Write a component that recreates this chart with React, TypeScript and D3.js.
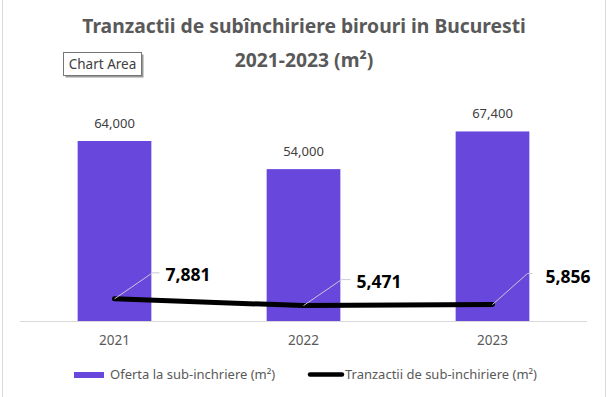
import { useRef, useEffect } from 'react';
import * as d3 from 'd3';

const years = ['2021', '2022', '2023'];
const oferta = [64000, 54000, 67400];
const tranzactii = [7881, 5471, 5856];
const titleLines = ['Tranzactii de subînchiriere birouri in Bucuresti', '2021-2023 (m²)'];
const legendLabels = ['Oferta la sub-inchriere (m²)', 'Tranzactii de sub-inchiriere (m²)'];

// leader line / label offsets relative to each point (manual label placement)
const labelOffsets = [
  { bx: 38, by: -26, ex: 45, tx: 51, ty: -18 },
  { bx: 38, by: -26, ex: 47, tx: 53, ty: -18 },
  { bx: 35, by: -31, ex: 40, tx: 53, ty: -22 },
];

const FONT = '"Noto Sans", "Open Sans", sans-serif';

function App() {
  const svgRef = useRef<SVGSVGElement>(null);

  useEffect(() => {
    const width = 607;
    const height = 397;
    const svg = d3.select(svgRef.current).attr('width', width).attr('height', height);
    svg.selectAll('*').remove();

    svg.append('rect').attr('width', width).attr('height', height).attr('fill', '#fff');
    svg.append('line').attr('x1', 2.5).attr('x2', 2.5).attr('y1', 0).attr('y2', height)
      .attr('stroke', '#d9d9d9');
    svg.append('line').attr('x1', 605.5).attr('x2', 605.5).attr('y1', 0).attr('y2', height)
      .attr('stroke', '#d9d9d9');

    const plot = { left: 20, right: 587, top: 96, bottom: 321 };

    const x = d3.scaleBand().domain(years).range([plot.left, plot.right]);
    const barW = x.bandwidth() * 0.39;
    const y = d3.scaleLinear().domain([0, 80000]).range([plot.bottom, plot.top]);

    // title
    svg.append('g').selectAll('text')
      .data(titleLines)
      .enter()
      .append('text')
      .attr('x', 304)
      .attr('y', (d, i) => 33 + i * 34)
      .attr('text-anchor', 'middle')
      .attr('font-family', FONT)
      .attr('font-weight', 'bold')
      .attr('font-size', 19.3)
      .attr('fill', '#595959')
      .text(d => d);

    // bars
    svg.append('g').selectAll('rect')
      .data(oferta)
      .enter()
      .append('rect')
      .attr('x', (d, i) => x(years[i])! + x.bandwidth() / 2 - barW / 2)
      .attr('y', d => y(d))
      .attr('width', barW)
      .attr('height', d => y(0) - y(d))
      .attr('fill', '#6847dc');

    svg.append('g').selectAll('text')
      .data(oferta)
      .enter()
      .append('text')
      .attr('x', (d, i) => x(years[i])! + x.bandwidth() / 2)
      .attr('y', d => y(d) - 13)
      .attr('text-anchor', 'middle')
      .attr('font-family', FONT)
      .attr('font-size', 13)
      .attr('fill', '#404040')
      .text(d => d3.format(',')(d));

    // x axis
    svg.append('line')
      .attr('x1', plot.left).attr('x2', plot.right)
      .attr('y1', plot.bottom + 0.5).attr('y2', plot.bottom + 0.5)
      .attr('stroke', '#d9d9d9');

    svg.append('g').selectAll('text')
      .data(years)
      .enter()
      .append('text')
      .attr('x', d => x(d)! + x.bandwidth() / 2)
      .attr('y', 345)
      .attr('text-anchor', 'middle')
      .attr('font-family', FONT)
      .attr('font-size', 13.5)
      .attr('fill', '#595959')
      .text(d => d);

    // line
    const pts = tranzactii.map((v, i) => [x(years[i])! + x.bandwidth() / 2, y(v)] as [number, number]);
    svg.append('path')
      .datum(pts)
      .attr('d', d3.line())
      .attr('fill', 'none')
      .attr('stroke', '#000')
      .attr('stroke-width', 5)
      .attr('stroke-linecap', 'round')
      .attr('stroke-linejoin', 'round');

    // leader lines + labels
    pts.forEach(([px, py], i) => {
      const o = labelOffsets[i];
      svg.append('polyline')
        .attr('points', `${px},${py} ${px + o.bx},${py + o.by} ${px + o.ex},${py + o.by}`)
        .attr('fill', 'none')
        .attr('stroke', '#c8c8d8')
        .attr('stroke-width', 1);
      svg.append('text')
        .attr('x', px + o.tx)
        .attr('y', py + o.ty)
        .attr('font-family', FONT)
        .attr('font-weight', 'bold')
        .attr('font-size', 17.5)
        .attr('fill', '#000')
        .text(d3.format(',')(tranzactii[i]));
    });

    // legend
    const lg = svg.append('g').attr('font-family', FONT).attr('font-size', 13).attr('fill', '#595959');
    lg.append('rect').attr('x', 74).attr('y', 372).attr('width', 30).attr('height', 6).attr('fill', '#6847dc');
    lg.append('text').attr('x', 110).attr('y', 378.5).text(legendLabels[0]);
    lg.append('line').attr('x1', 310).attr('x2', 342).attr('y1', 374.5).attr('y2', 374.5)
      .attr('stroke', '#000').attr('stroke-width', 4.5).attr('stroke-linecap', 'round');
    lg.append('text').attr('x', 345).attr('y', 378.5).text(legendLabels[1]);

    // "Chart Area" tooltip
    const tip = svg.append('g');
    tip.append('rect').attr('x', 65.5).attr('y', 54.5).attr('width', 78).attr('height', 23).attr('fill', '#9a9a9a');
    tip.append('rect').attr('x', 63.5).attr('y', 52.5).attr('width', 78).attr('height', 23)
      .attr('fill', '#fff').attr('stroke', '#767676');
    tip.append('text').attr('x', 102.5).attr('y', 69).attr('text-anchor', 'middle')
      .attr('font-family', FONT).attr('font-size', 13.5).attr('fill', '#404040').text('Chart Area');
  }, []);

  return (
    <div style={{ position: 'absolute', left: 0, top: 0 }}>
      <svg ref={svgRef}></svg>
    </div>
  );
}

export default App;
